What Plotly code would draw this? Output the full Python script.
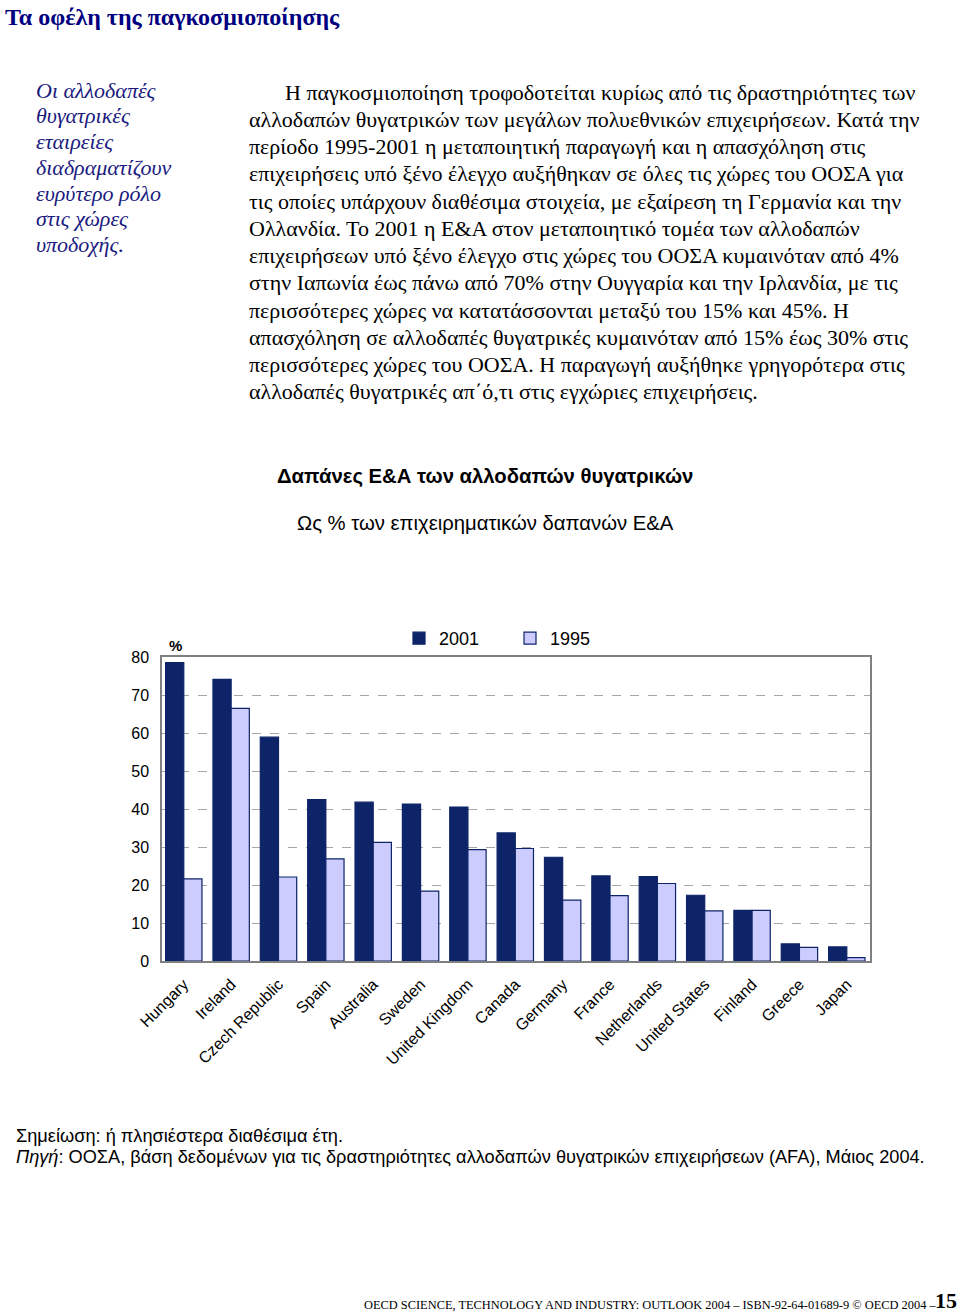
import plotly.graph_objects as go

# data
countries = ["Hungary", "Ireland", "Czech Republic", "Spain", "Australia",
             "Sweden", "United Kingdom", "Canada", "Germany", "France",
             "Netherlands", "United States", "Finland", "Greece", "Japan"]
rd_2001 = [78.5, 74.1, 58.9, 42.5, 41.8, 41.3, 40.5, 33.7, 27.3, 22.4,
           22.2, 17.3, 13.3, 4.5, 3.7]
rd_1995 = [21.6, 66.5, 22.1, 26.9, 31.2, 18.4, 29.3, 29.6, 16.0, 17.2,
           20.4, 13.2, 13.3, 3.6, 0.9]
y_ticks = [0, 10, 20, 30, 40, 50, 60, 70, 80]

heading = "Τα οφέλη της παγκοσμιοποίησης"
sidebar = ["Οι αλλοδαπές", "θυγατρικές", "εταιρείες", "διαδραματίζουν",
           "ευρύτερο ρόλο", "στις χώρες", "υποδοχής."]
body = [
    "Η παγκοσμιοποίηση τροφοδοτείται κυρίως από τις δραστηριότητες των",
    "αλλοδαπών θυγατρικών των μεγάλων πολυεθνικών επιχειρήσεων. Κατά την",
    "περίοδο 1995-2001 η μεταποιητική παραγωγή και η απασχόληση στις",
    "επιχειρήσεις υπό ξένο έλεγχο αυξήθηκαν σε όλες τις χώρες του ΟΟΣΑ για",
    "τις οποίες υπάρχουν διαθέσιμα στοιχεία, με εξαίρεση τη Γερμανία και την",
    "Ολλανδία. Το 2001 η Ε&Α στον μεταποιητικό τομέα των αλλοδαπών",
    "επιχειρήσεων υπό ξένο έλεγχο στις χώρες του ΟΟΣΑ κυμαινόταν από 4%",
    "στην Ιαπωνία έως πάνω από 70% στην Ουγγαρία και την Ιρλανδία, με τις",
    "περισσότερες χώρες να κατατάσσονται μεταξύ του 15% και 45%. Η",
    "απασχόληση σε αλλοδαπές θυγατρικές κυμαινόταν από 15% έως 30% στις",
    "περισσότερες χώρες του ΟΟΣΑ. Η παραγωγή αυξήθηκε γρηγορότερα στις",
    "αλλοδαπές θυγατρικές απ΄ό,τι στις εγχώριες επιχειρήσεις.",
]

W, H = 960, 1314
NAVY = "#0d2468"
LIGHT = "#ccccff"
SANS = "Liberation Sans, Arial"
SERIF = "Liberation Serif, Times New Roman"


def px(x):
    return x / W


def py(y):
    return 1 - y / H


fig = go.Figure()
fig.add_trace(go.Bar(x=countries, y=rd_2001, name="2001",
                     marker=dict(color=NAVY, line=dict(color=NAVY, width=1.2))))
fig.add_trace(go.Bar(x=countries, y=rd_1995, name="1995",
                     marker=dict(color=LIGHT, line=dict(color=NAVY, width=1.2))))

ann = []


def text(x, y, s, size, family=SANS, color="black", xanchor="left", **kw):
    ann.append(dict(x=px(x), y=py(y), xref="paper", yref="paper", text=s,
                    showarrow=False, xanchor=xanchor, yanchor="middle",
                    font=dict(size=size, family=family, color=color), **kw))


text(3, 17, "<b>" + heading + "</b>", 24, SERIF, "#000080")
for i, line in enumerate(sidebar):
    text(34, 90 + i * 25.8, "<i>" + line + "</i>", 22, SERIF, "#1a1a80")
for i, line in enumerate(body):
    text(283 if i == 0 else 247, 92 + i * 27.27, line, 22, SERIF)

text(485, 476, "<b>Δαπάνες Ε&Α των αλλοδαπών θυγατρικών</b>", 20.3, xanchor="center")
text(485, 523, "Ως % των επιχειρηματικών δαπανών Ε&Α", 20.3, xanchor="center")
text(167, 646, "<b>%</b>", 15)

text(14, 1136, "Σημείωση: ή πλησιέστερα διαθέσιμα έτη.", 18.2)
text(14, 1157, "<i>Πηγή</i>: ΟΟΣΑ, βάση δεδομένων για τις δραστηριότητες αλλοδαπών "
     "θυγατρικών επιχειρήσεων (AFA), Μάιος 2004.", 18.2)
text(941, 1305, "OECD SCIENCE, TECHNOLOGY AND INDUSTRY: OUTLOOK 2004 – "
     "ISBN-92-64-01689-9 © OECD 2004 – ", 12.4, SERIF, xanchor="right")
text(959, 1300, "<b>15</b>", 22, SERIF, xanchor="right")

fig.update_layout(
    width=W, height=H,
    margin=dict(l=0, r=0, t=0, b=0, autoexpand=False),
    paper_bgcolor="white", plot_bgcolor="white",
    barmode="group", bargap=0.232, bargroupgap=0,
    font=dict(family=SANS, color="black"),
    annotations=ann,
    legend=dict(orientation="h", x=px(399), y=py(620), xanchor="left",
                yanchor="top", font=dict(size=18, family=SANS),
                entrywidth=66, entrywidthmode="pixels",
                bgcolor="rgba(0,0,0,0)"),
    xaxis=dict(domain=[px(162), px(870)], range=[-0.46, 14.49],
               tickangle=-45, tickfont=dict(size=16, family=SANS),
               showline=True, mirror=True, linecolor="#808080", linewidth=1.5,
               ticks="outside", ticklen=6, tickcolor="rgba(0,0,0,0)",
               showgrid=False, automargin=False),
    yaxis=dict(domain=[py(961), py(657)], range=[0, 80],
               tickvals=y_ticks, tickfont=dict(size=16, family=SANS),
               showline=True, mirror=True, linecolor="#808080", linewidth=1.5,
               showgrid=True, gridcolor="#a6a6a6", griddash="dash", gridwidth=1,
               zeroline=False, ticks="", ticklabelstandoff=8, automargin=False),
)

fig.write_html("out.html", config={"displayModeBar": False},
               post_script="document.body.style.margin='0';")
